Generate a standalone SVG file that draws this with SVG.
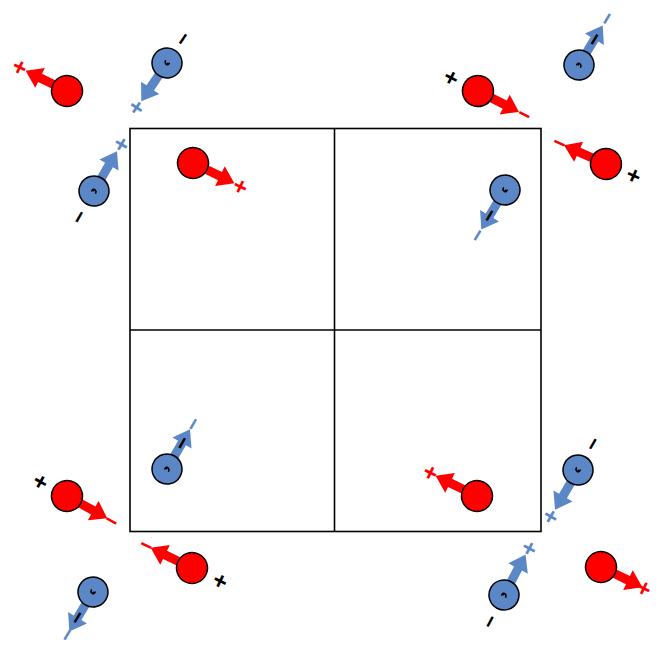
<svg xmlns="http://www.w3.org/2000/svg" width="658" height="648" viewBox="0 0 658 648">
<style>
.bg{fill:#fff}
.frame{fill:none;stroke:#000;stroke-width:1.6}
.rb{fill:#FF0000;stroke:#000;stroke-width:1.5}
.bb{fill:#5B87C6;stroke:#000;stroke-width:1.5}
.ra{fill:#FF0000}
.ba{fill:#5B87C6}
.sg{font-family:"Liberation Sans",Arial,sans-serif;font-weight:bold;text-anchor:middle;dominant-baseline:central}
.pl{font-size:24px}
.mi{font-size:22px}
.r{fill:#FF0000}.b{fill:#5B87C6}.k{fill:#000}
.curl{fill:none;stroke:#000;stroke-width:1.6;stroke-linecap:round}
</style>
<defs>
<path id="arr" d="M12,-4.5 L30,-4.5 L30,-11 L46,0 L30,11 L30,4.5 L12,4.5 Z"/>
<g id="red"><use href="#arr" class="ra"/><circle r="15.5" class="rb"/></g>
<g id="blue"><use href="#arr" class="ba"/><circle r="15" class="bb"/><path class="curl" d="M-1,-2 q3,0 2.5,2.5 q-0.5,2 -2.5,2"/><circle cx="0.5" cy="-1" r="1.3" class="k"/></g>
</defs>
<rect class="bg" x="0" y="0" width="658" height="648"/>
<g id="grid">
<rect class="frame" x="130" y="128.5" width="411" height="403"/>
<line class="frame" x1="334.5" y1="128.5" x2="334.5" y2="531.5"/>
<line class="frame" x1="130" y1="330" x2="541" y2="330"/>
</g>
<g id="particles">
<g id="p1" transform="translate(193,163) rotate(26)"><use href="#red"/><text class="sg pl r" x="53" y="0">+</text></g>
<g id="p2" transform="translate(505,190) rotate(121)"><use href="#blue"/><text class="sg mi k" x="30" y="0">−</text><text class="sg mi b" x="53" y="0">−</text></g>
<g id="p3" transform="translate(167,469) rotate(-60)"><use href="#blue"/><text class="sg mi k" x="30" y="0">−</text><text class="sg mi b" x="52" y="0">−</text></g>
<g id="p4" transform="translate(477,496) rotate(206)"><use href="#red"/><text class="sg pl r" x="52" y="0">+</text></g>
<g id="p5" transform="translate(67,91) rotate(206)"><use href="#red"/><text class="sg pl r" x="53" y="0">+</text></g>
<g id="p6" transform="translate(167,63) rotate(124)"><use href="#blue"/><text class="sg pl b" x="54" y="0">+</text><text class="sg mi k" x="-29" y="0">−</text></g>
<g id="p7" transform="translate(94,191) rotate(-60)"><use href="#blue"/><text class="sg pl b" x="54" y="0">+</text><text class="sg mi k" x="-30" y="0">−</text></g>
<g id="p8" transform="translate(579,65) rotate(-59)"><use href="#blue"/><text class="sg mi k" x="30" y="0">−</text><text class="sg mi b" x="54" y="0">−</text></g>
<g id="p9" transform="translate(478,91) rotate(27)"><use href="#red"/><text class="sg mi r" x="52" y="0">−</text><text class="sg pl k" x="-30" y="0">+</text></g>
<g id="p10" transform="translate(606,164) rotate(204)"><use href="#red"/><text class="sg mi r" x="51" y="0">−</text><text class="sg pl k" x="-30" y="0">+</text></g>
<g id="p11" transform="translate(67,496) rotate(29)"><use href="#red"/><text class="sg mi r" x="51" y="0">−</text><text class="sg pl k" x="-30" y="0">+</text></g>
<g id="p12" transform="translate(192,568) rotate(206)"><use href="#red"/><text class="sg mi r" x="51" y="0">−</text><text class="sg pl k" x="-31" y="0">+</text></g>
<g id="p13" transform="translate(93,592) rotate(121)"><use href="#blue"/><text class="sg mi k" x="30" y="0">−</text><text class="sg mi b" x="50" y="0">−</text></g>
<g id="p14" transform="translate(578,470) rotate(120)"><use href="#blue"/><text class="sg pl b" x="54" y="0">+</text><text class="sg mi k" x="-30" y="0">−</text></g>
<g id="p15" transform="translate(504,595) rotate(-62)"><use href="#blue"/><text class="sg pl b" x="53" y="0">+</text><text class="sg mi k" x="-30" y="0">−</text></g>
<g id="p16" transform="translate(601,567) rotate(26)"><use href="#red"/><text class="sg pl r" x="48" y="0">+</text></g>
</g>
</svg>
